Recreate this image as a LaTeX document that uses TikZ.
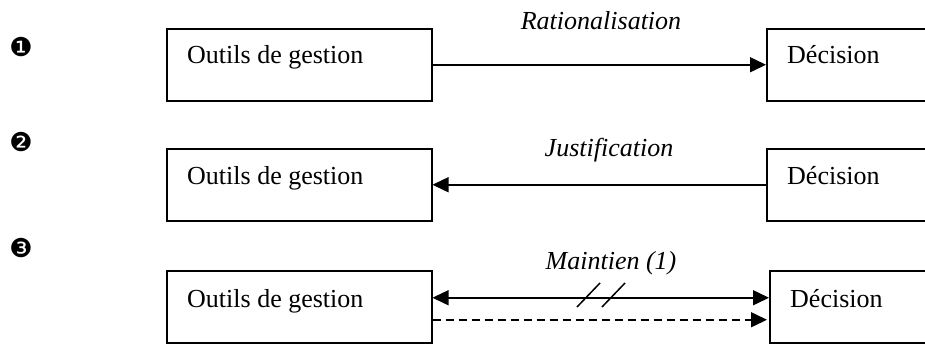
\documentclass[tikz,border=0pt]{standalone}
\usepackage{fontspec}
\setmainfont{Liberation Serif}
\newfontfamily\dejavu{DejaVu Sans}
\usetikzlibrary{arrows.meta}
\begin{document}
\begin{tikzpicture}[x=1pt,y=-1pt,
  box/.style={draw, line width=1.5pt, minimum width=265pt, minimum height=72pt, inner sep=0pt, anchor=north west},
  dbox/.style={draw, line width=1.5pt, minimum width=180pt, minimum height=72pt, inner sep=0pt, anchor=north west},
  txt/.style={anchor=base west, inner sep=0pt, font=\fontsize{26}{30}\selectfont},
  lbl/.style={anchor=base, inner sep=0pt, font=\fontsize{26}{30}\selectfont\itshape},
  num/.style={inner sep=0pt, font=\fontsize{26}{30}\selectfont\dejavu},
  conn/.style={line width=1.5pt, -{Triangle[length=16pt,width=15pt]}},
  both/.style={line width=1.5pt, {Triangle[length=16pt,width=15pt]}-{Triangle[length=16pt,width=15pt]}},
  dconn/.style={line width=1.5pt, dash pattern=on 8pt off 5pt, -{Triangle[length=16pt,width=15pt]}},
  slash/.style={line width=1.5pt}]
\useasboundingbox (0,0) rectangle (925,343);
\clip (0,0) rectangle (925,343);
% markers
\node[num] (n1) at (21,47) {❶};
\node[num] (n2) at (21,142) {❷};
\node[num] (n3) at (21,248) {❸};
% row 1
\node[box] (o1) at (166,28) {};
\node[dbox] (d1) at (766,28) {};
\node[txt] (to1) at (187,63) {Outils de gestion};
\node[txt] (td1) at (787,63) {Décision};
\draw[conn] (o1.east) -- (d1.west);
\node[lbl] (l1) at (601,29) {Rationalisation};
% row 2
\node[box] (o2) at (166,148) {};
\node[dbox] (d2) at (766,148) {};
\node[txt] (to2) at (187,184) {Outils de gestion};
\node[txt] (td2) at (787,184) {Décision};
\draw[conn] (d2.west) -- (o2.east);
\node[lbl] (l2) at (609,156) {Justification};
% row 3
\node[box] (o3) at (166,270) {};
\node[dbox] (d3) at (769,270) {};
\node[txt] (to3) at (187,307) {Outils de gestion};
\node[txt] (td3) at (790,307) {Décision};
\draw[both] ([yshift=9pt]o3.east) -- ([yshift=9pt]d3.west);
\draw[dconn] ([yshift=-13pt]o3.east) -- ([yshift=-13pt,xshift=-2pt]d3.west);
\node[lbl] (l3) at (611,269) {Maintien (1)};
\coordinate (s1a) at (577,307); \coordinate (s1b) at (600,283);
\coordinate (s2a) at (602,307); \coordinate (s2b) at (625,283);
\draw[slash] (s1a) -- (s1b);
\draw[slash] (s2a) -- (s2b);
\end{tikzpicture}
\end{document}
